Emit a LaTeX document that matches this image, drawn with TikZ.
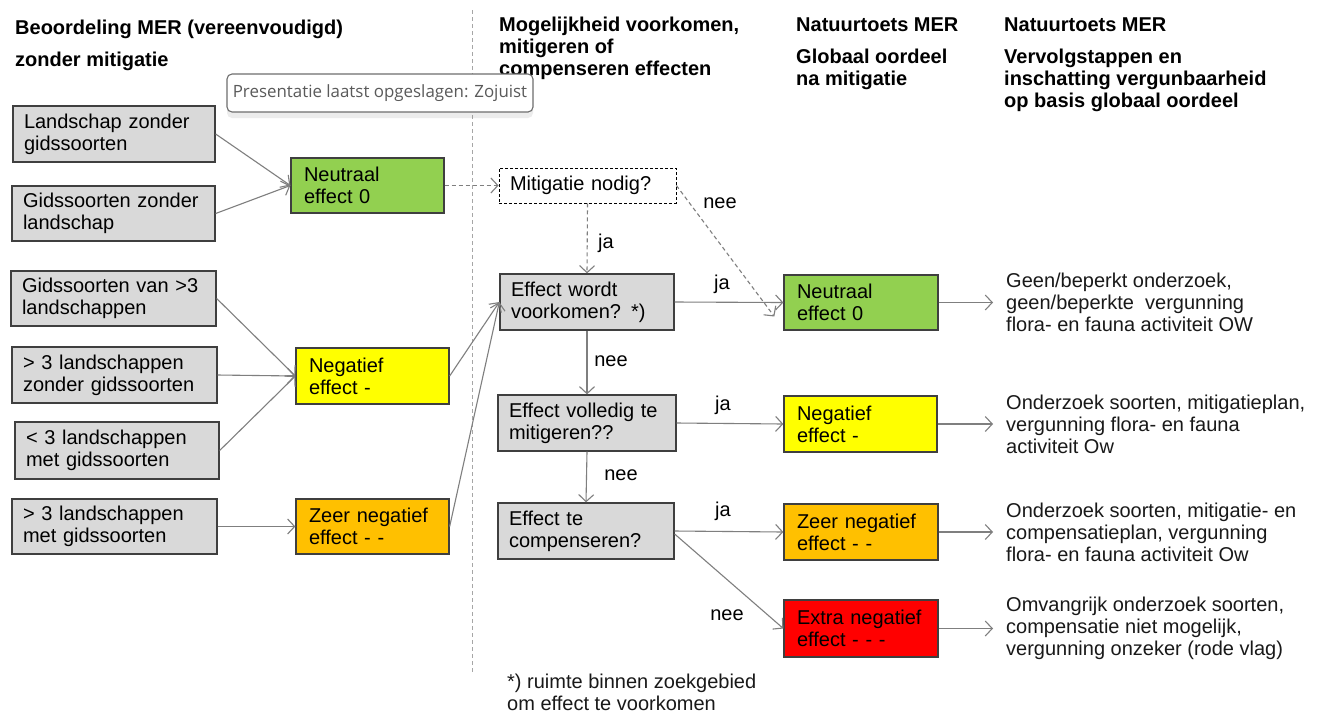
\documentclass[tikz,border=0pt]{standalone}
\usepackage{fontspec}
\setmainfont{Liberation Sans}
\newfontfamily\tipfont{Open Sans}
\usetikzlibrary{arrows.meta,shadows}
\definecolor{gfill}{HTML}{D9D9D9}
\definecolor{bordc}{HTML}{3F3F3F}
\definecolor{linec}{HTML}{7F7F7F}
\definecolor{sepc}{HTML}{A6A6A6}
\definecolor{cgreen}{HTML}{92D050}
\definecolor{cyellow}{HTML}{FFFF00}
\definecolor{corange}{HTML}{FFC000}
\definecolor{cred}{HTML}{FF0000}
\definecolor{tipline}{HTML}{6E6E6E}
\definecolor{tiptext}{HTML}{5A5A5A}
\begin{document}
\begin{tikzpicture}[x=1pt,y=-1pt,
  basebox/.style={draw=bordc, line width=1.3pt, inner xsep=11pt, inner ysep=0pt,
    align=left, font=\fontsize{20}{22}\selectfont, text=black},
  gbox/.style={basebox, fill=gfill},
  greenbox/.style={basebox, fill=cgreen, inner xsep=13pt},
  yellowbox/.style={basebox, fill=cyellow, inner xsep=13pt},
  orangebox/.style={basebox, fill=corange, inner xsep=13pt},
  redbox/.style={basebox, fill=cred, inner xsep=13pt},
  dbox/.style={basebox, draw=black, line width=0.8pt, dash pattern=on 3pt off 2pt},
  conn/.style={draw=linec, line width=1.1pt, -{Straight Barb[length=7pt,width=15pt,line width=1.1pt]}},
  dconn/.style={conn, dash pattern=on 4pt off 3pt},
  head/.style={font=\fontsize{20}{22}\selectfont\bfseries, inner sep=0pt, anchor=west, align=left},
  lbl/.style={font=\fontsize{20}{22}\selectfont, inner sep=0pt},
  rtext/.style={font=\fontsize{20}{22}\selectfont, inner xsep=13pt, inner ysep=0pt, anchor=west, align=left, text=black!90}
]
\useasboundingbox (0,0) rectangle (1321,713);
\fill[white] (0,0) rectangle (1321,713);

% separator
\draw[sepc, line width=1pt, dash pattern=on 4pt off 3pt] (472,10) -- (472,672);

% headers
\node[head] (h1a) at (15,29) {Beoordeling MER (vereenvoudigd)};
\node[head] (h1b) at (15,61) {zonder mitigatie};
\node[head] (h2) at (499,48) {Mogelijkheid voorkomen,\\mitigeren of\\compenseren effecten};
\node[head] (h3a) at (796,25) {Natuurtoets MER};
\node[head] (h3b) at (796,69) {Globaal oordeel\\na mitigatie};
\node[head] (h4a) at (1004,25) {Natuurtoets MER};
\node[head] (h4b) at (1004,80) {Vervolgstappen en\\inschatting vergunbaarheid\\op basis globaal oordeel};

% left column boxes
\node[gbox, text width=180pt, minimum height=56pt] (ls1) at (114,134) {Landschap zonder\\gidssoorten};
\node[gbox, text width=181pt, minimum height=55pt] (ls2) at (113.5,213.5) {Gidssoorten zonder\\landschap};
\node[gbox, text width=183pt, minimum height=55pt] (l3) at (113.5,298.5) {Gidssoorten van >3\\landschappen};
\node[gbox, text width=183pt, minimum height=56pt] (l4) at (114.5,375) {> 3 landschappen\\zonder gidssoorten};
\node[gbox, text width=182pt, minimum height=57pt] (l5) at (117,450.5) {< 3 landschappen\\met gidssoorten};
\node[gbox, text width=183pt, minimum height=55pt] (l6) at (114.5,526.5) {> 3 landschappen\\met gidssoorten};

\node[greenbox, text width=127pt, minimum height=55pt] (neu1) at (367.5,185.5) {Neutraal\\effect 0};
\node[yellowbox, text width=127pt, minimum height=56pt] (neg1) at (372.5,376) {Negatief\\effect -};
\node[orangebox, text width=127pt, minimum height=55pt] (zeer1) at (372.5,526.5) {Zeer negatief\\effect - -};

% middle column
\node[dbox, text width=155pt, minimum height=35pt] (mit) at (587.5,185.5) {Mitigatie nodig?};
\node[gbox, text width=152pt, minimum height=56pt] (q1) at (587,302) {Effect wordt\\voorkomen? *)};
\node[gbox, text width=156pt, minimum height=56pt] (q2) at (587,423) {Effect volledig te\\mitigeren??};
\node[gbox, text width=154pt, minimum height=56pt] (q3) at (586,531) {Effect te\\compenseren?};

% right boxes
\node[greenbox, text width=128pt, minimum height=55pt] (neu2) at (861,302.5) {Neutraal\\effect 0};
\node[yellowbox, text width=127pt, minimum height=56pt] (neg2) at (860.5,424) {Negatief\\effect -};
\node[orangebox, text width=128pt, minimum height=56pt] (zeer2) at (861,532) {Zeer negatief\\effect - -};
\node[redbox, text width=128pt, minimum height=57pt] (extra) at (861,628.5) {Extra negatief\\effect - - -};

% right texts
\node[rtext] (r1) at (993,302.5) {Geen/beperkt onderzoek,\\geen/beperkte\ \ vergunning\\flora- en fauna activiteit OW};
\node[rtext] (r2) at (993,424) {Onderzoek soorten, mitigatieplan,\\vergunning flora- en fauna\\activiteit Ow};
\node[rtext] (r3) at (993,532) {Onderzoek soorten, mitigatie- en\\compensatieplan, vergunning\\flora- en fauna activiteit Ow};
\node[rtext] (r4) at (993,628.5) {Omvangrijk onderzoek soorten,\\compensatie niet mogelijk,\\vergunning onzeker (rode vlag)};

% footnote
\node[rtext, inner xsep=0pt] (fn) at (507,692) {*) ruimte binnen zoekgebied\\om effect te voorkomen};

% connectors left
\draw[conn] (ls1.east) -- (neu1.west);
\draw[conn] (ls2.east) -- (neu1.west);
\draw[conn] (l3.east) -- (neg1.west);
\draw[conn] (l4.east) -- (neg1.west);
\draw[conn] (l5.east) -- (neg1.west);
\draw[conn] (l6.east) -- (zeer1.west);
\draw[conn] (neg1.east) -- (q1.west);
\draw[conn] (zeer1.east) -- (q1.west);

% middle connectors
\draw[dconn] (neu1.east) -- (mit.west);
\draw[dconn] (mit.south) -- (q1.north);
\draw[dconn] (mit.east) -- ([xshift=-9pt,yshift=-14pt]neu2.west);
\draw[conn] (q1.east) -- (neu2.west);
\draw[conn] (q1.south) -- (q2.north);
\draw[conn] (q2.east) -- (neg2.west);
\draw[conn] (q2.south) -- (q3.north);
\draw[conn] (q3.east) -- (zeer2.west);
\draw[conn] ([yshift=-3pt]q3.east) -- (extra.west);

% right connectors
\draw[conn] (neu2.east) -- (r1.west);
\draw[conn] (neg2.east) -- (r2.west);
\draw[conn] (zeer2.east) -- (r3.west);
\draw[conn] (extra.east) -- (r4.west);

% labels
\node[lbl] (lnee0) at (720,203) {nee};
\node[lbl] (lja0) at (606,243) {ja};
\node[lbl] (lja1) at (722,284) {ja};
\node[lbl] (lnee1) at (611,361) {nee};
\node[lbl] (lja2) at (723,405) {ja};
\node[lbl] (lnee2) at (621,475) {nee};
\node[lbl] (lja3) at (723,511) {ja};
\node[lbl] (lnee3) at (727,615) {nee};

% tooltip
\node[draw=tipline, line width=1.1pt, fill=white, rounded corners=5pt,
  minimum width=306pt, minimum height=38pt, inner sep=0pt,
  drop shadow={opacity=0.15, shadow xshift=0pt, shadow yshift=-6pt},
  font=\tipfont\fontsize{16.9}{19}\selectfont, text=tiptext] (tip) at (380,93)
  {Presentatie laatst opgeslagen: Zojuist};
\end{tikzpicture}
\end{document}
